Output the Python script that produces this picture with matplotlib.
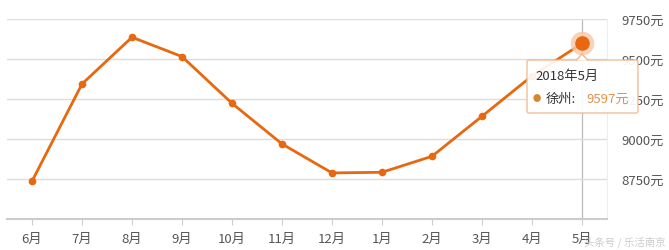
import matplotlib
matplotlib.use("Agg")
from matplotlib import pyplot as plt
from matplotlib.patches import FancyBboxPatch, Polygon

plt.rcParams['font.family'] = ['Noto Sans CJK SC', 'DejaVu Sans']

# monthly average price, Xuzhou
months = ['6月', '7月', '8月', '9月', '10月', '11月', '12月', '1月', '2月', '3月', '4月', '5月']
prices = [8736, 9344, 9636, 9515, 9223, 8969, 8788, 8792, 8892, 9142, 9394, 9597]
y_ticks = [8750, 9000, 9250, 9500, 9750]
y_labels = ['8750元', '9000元', '9250元', '9500元', '9750元']

city = '徐州'
tip_title = '2018年5月'
tip_value = '9597元'

line_color = '#e8680f'

fig = plt.figure(figsize=(6.69, 2.51), dpi=100)
ax = fig.add_axes([7 / 669, 31 / 251, 600 / 669, 200 / 251])

x = list(range(len(months)))
ax.plot(x, prices, color=line_color, lw=2.0, marker='o', ms=5.5,
        markeredgewidth=0, zorder=3)

# highlighted last point
ax.plot(x[-1], prices[-1], 'o', ms=17, color='#f7c8a8', alpha=0.8,
        markeredgewidth=0, zorder=4)
ax.plot(x[-1], prices[-1], 'o', ms=10.5, color=line_color,
        markeredgewidth=0, zorder=5)
ax.axvline(x[-1], color='#bbbbbb', lw=0.9, zorder=1)

ax.set_xlim(-0.5, 11.5)
ax.set_ylim(8500, 9750)
ax.set_xticks(x)
ax.set_xticklabels(months)
ax.set_yticks(y_ticks)
ax.set_yticklabels(y_labels)
ax.yaxis.tick_right()
ax.grid(axis='y', color='#dddddd', lw=1)
ax.tick_params(axis='y', length=0, pad=10, labelsize=9.5, labelcolor='#555555')
ax.tick_params(axis='x', length=4, color='#cccccc', pad=5, labelsize=9.5,
               labelcolor='#555555')

for side in ['top', 'left']:
    ax.spines[side].set_visible(False)
ax.spines['right'].set_color('#eeeeee')
ax.spines['bottom'].set_color('#cccccc')
ax.spines['bottom'].set_linewidth(1.5)

# tooltip
box = FancyBboxPatch((527, 251 - 114), 111, 53, boxstyle='round,pad=0,rounding_size=2',
                     transform=None, facecolor='white', edgecolor='#f0b890',
                     lw=1, alpha=0.92, zorder=6)
fig.patches.append(box)
tip = Polygon([(576, 251 - 61.5), (582, 251 - 55), (588, 251 - 61.5)], closed=False,
              transform=None, facecolor='white', edgecolor='#f0b890', lw=1, zorder=7)
fig.patches.append(tip)
fig.text(535 / 669, 1 - 76 / 251, tip_title, fontsize=9.5, color='#333333',
         va='center', zorder=7)
fig.text(533 / 669, 1 - 99 / 251, '●', fontsize=6, color='#d6862e',
         va='center', zorder=7)
fig.text(546 / 669, 1 - 99 / 251, city + ':', fontsize=9.5, color='#333333',
         va='center', zorder=7)
fig.text(586 / 669, 1 - 99 / 251, tip_value, fontsize=9.5, color='#e0914a',
         va='center', zorder=7)

# watermark
fig.text(665 / 669, 1 - 242 / 251, '头条号 / 乐活南京', fontsize=7.5,
         color='#cccccc', ha='right', va='center')

fig.savefig('out.png', dpi=100)
